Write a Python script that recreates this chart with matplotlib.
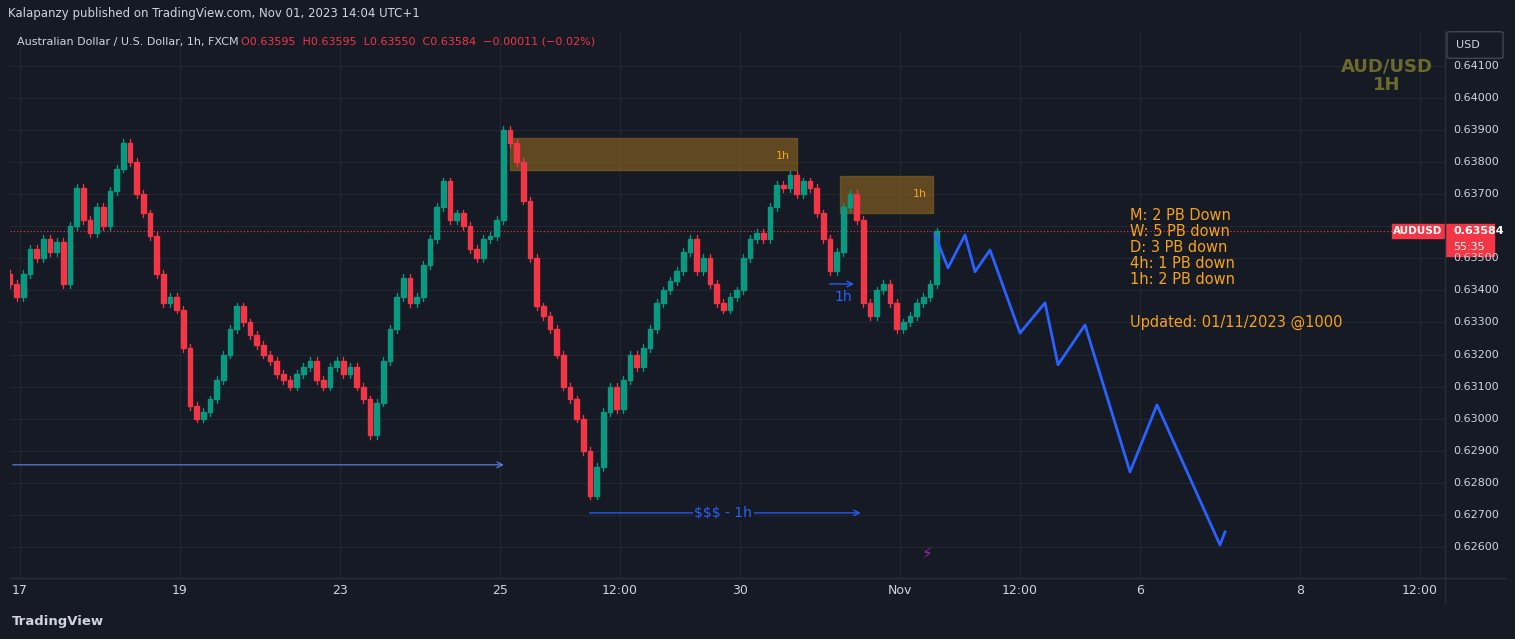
import numpy as np
import matplotlib
matplotlib.use("Agg")
import matplotlib.pyplot as plt
from matplotlib.patches import Rectangle, FancyBboxPatch

# ---- data (2-hour steps, hours since Oct 17 00:00, trading time) ----
start_hour = -3
step_hours = 2
closes = [.6342,.6338,.6345,.6353,.6350,.6356,.6352,.6355,.6342,.6360,.6372,.6362,.6358,.6366,.6360,
          .6371,.6378,.6386,.6380,.6370,.6364,.6357,.6345,.6336,.6338,.6334,.6322,.6304,.6300,.6302,
          .6306,.6312,.6320,.6328,.6335,.6330,.6326,.6323,.6320,.6318,.6314,.6312,.6310,.6314,.6316,
          .6318,.6312,.6310,.6316,.6318,.6314,.6316,.6310,.6306,.6295,.6305,.6318,.6328,.6338,.6344,
          .6336,.6338,.6348,.6356,.6366,.6374,.6362,.6364,.6360,.6353,.6350,.6356,.6357,.6362,.6390,
          .6386,.6380,.6368,.6350,.6335,.6332,.6328,.6320,.6310,.6306,.6300,.6290,.6276,.6285,.6302,
          .6310,.6303,.6312,.6320,.6316,.6322,.6328,.6336,.6340,.6343,.6346,.6352,.6356,.6346,.6350,
          .6342,.6336,.6334,.6338,.6340,.6350,.6356,.6358,.6356,.6366,.6373,.6372,.6376,.6370,.6374,
          .6372,.6364,.6356,.6346,.6352,.6366,.6370,.6362,.6336,.6332,.6340,.6342,.6336,.6328,.6330,
          .6332,.6336,.6338,.6342,.63584]
first_open = 0.6345
proj_t = [274.5,278.4,283.5,286.5,291,300,307.5,311.4,319.5,333,341.1,360,361.5]
proj_p = [.63573,.63470,.63573,.63458,.63526,.63267,.63361,.63168,.63292,.62834,.63043,.62606,.62647]
tick_pos = [0,48,96,144,180,216,264,300,336,384,420]
tick_lab = ["17","19","23","25","12:00","30","Nov","12:00","6","8","12:00"]
price_ticks = [0.626,0.627,0.628,0.629,0.630,0.631,0.632,0.633,0.634,0.635,0.636,0.637,0.638,0.639,0.640,0.641]
last_price = 0.63584
status = ["M: 2 PB Down","W: 5 PB down","D: 3 PB down","4h: 1 PB down","1h: 2 PB down"]

BG = "#161a25"
W, H = 1515, 639
fig = plt.figure(figsize=(W/100, H/100), dpi=100, facecolor=BG)
ax = fig.add_axes([10/W, (H-578)/H, 1435/W, 548/H], facecolor=BG)
t0, t1 = -3, 427.5
ax.set_xlim(t0, t1)
ax.set_ylim(0.62503, 0.64212)
for p in price_ticks:
    ax.axhline(p, color="#232733", lw=0.8, zorder=0)
for t in tick_pos:
    ax.axvline(t, color="#232733", lw=0.8, zorder=0)
for s in ax.spines.values():
    s.set_visible(False)
ax.set_xticks([]); ax.set_yticks([])

opens = [first_open] + closes[:-1]
for i, (o, c) in enumerate(zip(opens, closes)):
    t = start_hour + step_hours*i
    col = "#089981" if c >= o else "#f23645"
    hi = max(o, c) + 0.00012; lo = min(o, c) - 0.00012
    ax.plot([t, t], [lo, hi], color=col, lw=0.9, zorder=3)
    ax.add_patch(Rectangle((t-0.7, min(o, c)), 1.4, max(abs(c-o), 0.00002), color=col, zorder=4))

ax.axhline(last_price, color="#f23645", lw=0.8, ls=(0, (1, 2)), zorder=2)
# zones
ax.add_patch(Rectangle((147, 0.63776), 86, 0.001, color="#7a5a21", alpha=0.75, zorder=2))
ax.add_patch(Rectangle((246, 0.63642), 28, 0.00115, color="#7a5a21", alpha=0.75, zorder=2))
ax.text(229, 0.6382, "1h", color="#f7a21b", fontsize=8, ha="center", va="center", zorder=5)
ax.text(270, 0.6370, "1h", color="#f7a21b", fontsize=8, ha="center", va="center", zorder=5)
# arrows
blue = "#2962ff"
ax.annotate("", xy=(146, 0.62856), xytext=(-3, 0.62856),
            arrowprops=dict(arrowstyle="->", color="#5b7bd5", lw=0.9))
ax.annotate("", xy=(253, 0.62706), xytext=(170, 0.62706),
            arrowprops=dict(arrowstyle="->", color=blue, lw=0.9))
ax.text(211, 0.62706, "$$$ - 1h", color=blue, fontsize=10, ha="center", va="center",
        bbox=dict(facecolor=BG, edgecolor="none", pad=1))
ax.annotate("", xy=(251, 0.6342), xytext=(242, 0.6342),
            arrowprops=dict(arrowstyle="->", color=blue, lw=0.9))
ax.text(247, 0.6338, "1h", color=blue, fontsize=10, ha="center", va="center")
ax.plot(proj_t, proj_p, color=blue, lw=2, zorder=5)

for k, s in enumerate(status):
    ax.text(333, 0.63633 - k*0.0005, s, color="#f7a21b", fontsize=10.5, ha="left", va="center")
ax.text(333, 0.6330, "Updated: 01/11/2023 @1000", color="#f7a21b", fontsize=10.5, ha="left", va="center")
ax.text(410, 0.6407, "AUD/USD\n1H", color="#6b6a2a", fontsize=13, fontweight="bold",
        ha="center", va="center", linespacing=1.0)
ax.text(272, 0.62580, "⚡", color="#9c27b0", fontsize=11, ha="center", va="center")

# price axis
for p in price_ticks:
    if abs(p - last_price) < 0.0004:
        continue
    y = ax.transData.transform((0, p))[1] / H
    fig.text(1453/W, y, f"{p:.5f}", color="#d1d4dc", fontsize=8, va="center")
ylp = ax.transData.transform((0, last_price))[1] / H
fig.patches.append(Rectangle((1392/W, ylp-7/H), 52/W, 14/H, transform=fig.transFigure, color="#f23645"))
fig.text(1418/W, ylp, "AUDUSD", color="white", fontsize=7.5, fontweight="bold", ha="center", va="center")
fig.patches.append(Rectangle((1446/W, ylp-25/H), 48/W, 32/H, transform=fig.transFigure, color="#f23645"))
fig.text(1453/W, ylp, "0.63584", color="white", fontsize=8, fontweight="bold", va="center")
fig.text(1453/W, ylp-16/H, "55:35", color="white", fontsize=8, va="center")
fig.patches.append(FancyBboxPatch((1450/W, (H-57)/H), 50/W, 24/H, boxstyle="round,pad=0.002",
                                  transform=fig.transFigure, facecolor=BG, edgecolor="#434651"))
fig.text(1468/W, (H-45)/H, "USD", color="#d1d4dc", fontsize=8, ha="center", va="center")
# time axis
for t, l in zip(tick_pos, tick_lab):
    x = ax.transData.transform((t, 0))[0] / W
    fig.text(x, (H-590)/H, l, color="#d1d4dc", fontsize=9, ha="center", va="center")
fig.add_artist(plt.Line2D([10/W, 1505/W], [(H-578)/H]*2, color="#2a2e39", lw=1))
fig.add_artist(plt.Line2D([1445/W, 1445/W], [(H-603)/H, (H-30)/H], color="#2a2e39", lw=1))

fig.text(8/W, (H-13)/H, "Kalapanzy published on TradingView.com, Nov 01, 2023 14:04 UTC+1",
         color="#d1d4dc", fontsize=8.5, va="center")
fig.text(17/W, (H-42)/H, "Australian Dollar / U.S. Dollar, 1h, FXCM  ", color="#d1d4dc", fontsize=8, va="center")
fig.text(241/W, (H-42)/H, "O0.63595  H0.63595  L0.63550  C0.63584  −0.00011 (−0.02%)",
         color="#f23645", fontsize=8, va="center")
fig.text(12/W, (H-621)/H, "TradingView", color="#d1d4dc", fontsize=9.5, fontweight="bold", va="center")
fig.savefig("out.png", dpi=100, facecolor=BG)
